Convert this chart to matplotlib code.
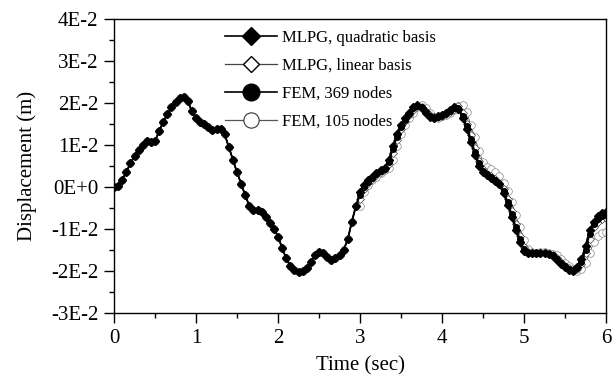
import numpy as np
import matplotlib
matplotlib.use("Agg")
import matplotlib.pyplot as plt
from matplotlib.lines import Line2D

plt.rcParams['font.family'] = ['Liberation Serif', 'DejaVu Serif']

# time axis (s), 0.05 s step
time = np.linspace(0, 6, 121)

# displacement (1E-3 m) for t = 0 .. 2.95 s, all four solutions coincide there
disp_early = [0.0, 0.3, 1.7, 3.6, 5.6, 7.4, 8.8, 10.0, 10.9, 10.7,
              10.9, 13.3, 15.5, 17.3, 19.0, 20.3, 21.2, 21.4, 20.4, 18.0,
              16.4, 15.5, 14.9, 14.2, 13.6, 13.8, 13.9, 12.5, 9.5, 6.5,
              3.5, 0.8, -2.0, -4.5, -5.4, -5.5, -6.0, -7.2, -8.5, -10.0,
              -11.8, -14.5, -17.0, -18.8, -19.8, -20.2, -19.9, -19.2, -17.8, -16.3,
              -15.4, -15.6, -16.6, -17.3, -17.0, -16.2, -15.0, -12.5, -8.3, -4.5]

# t = 3.0 .. 6.0 s
quad_late = [-1.2, 0.5, 1.6, 2.4, 3.3, 4.0, 4.6, 6.5, 9.8, 12.6,
             14.8, 16.5, 17.7, 19.0, 19.4, 18.8, 17.6, 16.7, 16.5, 16.8,
             17.2, 17.6, 18.3, 19.0, 18.5, 16.5, 13.8, 10.8, 7.6, 5.0,
             3.6, 2.8, 2.2, 1.5, 0.6, -1.5, -4.2, -7.2, -10.2, -13.2,
             -15.3, -15.8, -15.8, -15.6, -15.6, -15.8, -16.0, -16.4, -17.5, -18.4,
             -19.0, -19.7, -20.0, -19.0, -17.2, -14.0, -10.2, -8.3, -7.0, -6.2,
             -6.0]
linear_late = [-2.9, -0.4, 1.0, 2.0, 2.8, 3.6, 4.3, 5.5, 8.1, 11.2,
               13.7, 15.6, 17.1, 18.3, 19.2, 19.1, 18.2, 17.1, 16.6, 16.6,
               17.0, 17.4, 17.9, 18.6, 19.2, 17.5, 15.1, 12.3, 9.2, 6.3,
               4.3, 3.2, 2.5, 1.8, 1.0, -0.4, -2.8, -5.7, -8.7, -11.7,
               -14.2, -15.5, -15.8, -15.7, -15.6, -15.7, -15.9, -16.2, -16.9, -17.9,
               -18.7, -19.3, -19.8, -19.6, -18.3, -15.8, -12.3, -9.6, -8.4, -7.7,
               -7.5]
fem369_late = [-2.0, 0.0, 1.3, 2.2, 3.0, 3.8, 4.4, 6.0, 9.0, 11.9,
               14.2, 16.0, 17.4, 18.7, 19.3, 19.0, 17.9, 16.9, 16.5, 16.7,
               17.1, 17.5, 18.1, 18.8, 18.8, 17.0, 14.5, 11.5, 8.4, 5.6,
               3.9, 3.0, 2.3, 1.6, 0.8, -1.0, -3.5, -6.5, -9.5, -12.5,
               -14.8, -15.7, -15.8, -15.6, -15.6, -15.7, -16.0, -16.3, -17.2, -18.2,
               -18.8, -19.5, -19.9, -19.3, -17.8, -15.0, -11.2, -8.9, -7.6, -6.9,
               -6.7]
fem105_late = [-4.5, -1.2, 0.5, 1.6, 2.4, 3.3, 4.0, 4.6, 6.5, 9.8,
               12.6, 14.8, 16.5, 17.7, 19.0, 19.4, 18.8, 17.6, 16.7, 16.5,
               16.8, 17.2, 17.6, 18.3, 19.3, 19.6, 17.8, 14.8, 11.8, 8.6,
               6.0, 4.8, 4.2, 3.6, 2.6, 1.0, -1.0, -3.6, -6.6, -9.6,
               -12.6, -14.8, -15.5, -15.7, -15.5, -15.5, -15.7, -15.9, -16.3, -17.2,
               -18.2, -18.9, -19.6, -20.0, -19.6, -18.2, -15.8, -13.2, -11.6, -10.9,
               -10.6]

labels = ['MLPG, quadratic basis', 'MLPG, linear basis', 'FEM, 369 nodes', 'FEM, 105 nodes']
ytick_vals = [-0.03, -0.02, -0.01, 0.0, 0.01, 0.02, 0.03, 0.04]
ytick_text = ['-3E-2', '-2E-2', '-1E-2', '0E+0', '1E-2', '2E-2', '3E-2', '4E-2']

quad = np.array(disp_early + quad_late) * 1e-3
linear = np.array(disp_early + linear_late) * 1e-3
fem369 = np.array(disp_early + fem369_late) * 1e-3
fem105 = np.array(disp_early + fem105_late) * 1e-3

fig = plt.figure(figsize=(6.13, 3.81), dpi=100)
ax = fig.add_axes([0.186, 0.1785, 0.8026, 0.7717])

ax.plot(time, fem105, color='#555555', lw=0.6, marker='o', ms=5.5, mfc='white',
        mec='#888888', mew=0.5)
ax.plot(time, linear, color='black', lw=0.8, marker='D', ms=4, mfc='white',
        mec='#444444', mew=0.5)
ax.plot(time, fem369, color='black', lw=1.2, marker='o', ms=4, mfc='black',
        mec='black')
ax.plot(time, quad, color='black', lw=1.2, marker='D', ms=3.8, mfc='black',
        mec='black')

ax.set_xlim(0, 6)
ax.set_ylim(-0.03, 0.04)
ax.set_xticks(range(7))
ax.set_xticks(np.arange(0.5, 6, 1), minor=True)
ax.set_yticks(ytick_vals)
ax.set_yticklabels(ytick_text)
ax.set_yticks(np.arange(-0.025, 0.04, 0.01), minor=True)
ax.tick_params(which='both', direction='out', top=False, right=False, labelsize=15, width=1)
ax.tick_params(which='major', length=7.2, pad=4)
ax.tick_params(which='minor', length=3.6)
for s in ax.spines.values():
    s.set_linewidth(1)

ax.set_xlabel('Time (sec)', fontsize=15, labelpad=6)
ax.set_ylabel('Displacement (m)', fontsize=15, labelpad=10)

# legend entries drawn with larger symbols, as in the figure
handles = [
    Line2D([], [], color='black', lw=1.2, marker='D', ms=9, mfc='black', mec='black'),
    Line2D([], [], color='#444444', lw=0.9, marker='D', ms=8.5, mfc='white', mec='black', mew=1),
    Line2D([], [], color='black', lw=1.2, marker='o', ms=12, mfc='black', mec='black'),
    Line2D([], [], color='#555555', lw=0.9, marker='o', ms=11, mfc='white', mec='#333333', mew=0.8),
]
ax.legend(handles, labels, loc='upper left', bbox_to_anchor=(0.2, 1.005), frameon=False,
          fontsize=12, handlelength=3.1, handletextpad=0.3, labelspacing=0.72,
          borderpad=0.25)

fig.savefig('out.png', dpi=100)
